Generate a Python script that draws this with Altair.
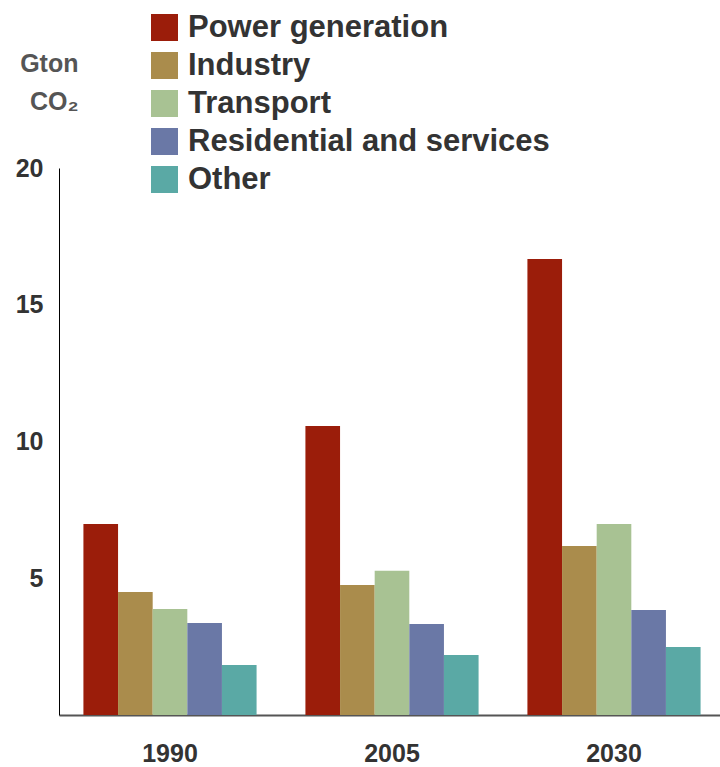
import altair as alt
import pandas as pd

years = ["1990", "2005", "2030"]
sectors = ["Power generation", "Industry", "Transport", "Residential and services", "Other"]
colors = ["#9B1D0A", "#AA8C4C", "#A8C293", "#6A78A6", "#5AA9A5"]

power = [6.98, 10.57, 16.67]
industry = [4.50, 4.75, 6.18]
transport = [3.88, 5.27, 6.98]
residential = [3.36, 3.33, 3.84]
other = [1.83, 2.19, 2.49]

series = [power, industry, transport, residential, other]
rows = []
for s, vals in zip(sectors, series):
    for y, v in zip(years, vals):
        rows.append({"year": y, "sector": s, "value": v})
df = pd.DataFrame(rows)

FONT = "Liberation Sans"

chart = alt.Chart(df).mark_bar().encode(
    x=alt.X("year:N", sort=years,
            scale=alt.Scale(paddingInner=0.22, paddingOuter=0.11, range=[0, 666]),
            axis=alt.Axis(title=None, labelAngle=0, labelFont=FONT, labelFontSize=25,
                          labelFontWeight="bold", labelColor="#333333", ticks=False,
                          labelPadding=26, domainColor="#555555", domainWidth=2)),
    xOffset=alt.XOffset("sector:N", sort=sectors, scale=alt.Scale(paddingInner=0, paddingOuter=0)),
    y=alt.Y("value:Q", scale=alt.Scale(domain=[0, 20], nice=False),
            axis=alt.Axis(values=[5, 10, 15, 20], grid=False, ticks=False,
                          labelFont=FONT, labelFontSize=25, labelFontWeight="bold",
                          labelColor="#333333", labelPadding=16,
                          domainColor="#000000", domainWidth=1,
                          title=["Gton", "CO\u2082"], titleAngle=0, titleAlign="right",
                          titleX=19, titleY=-97, titleFont=FONT, titleFontSize=25,
                          titleFontWeight="bold", titleColor="#555555", titleLineHeight=38,
                          titleBaseline="alphabetic")),
    color=alt.Color("sector:N", sort=sectors,
                    scale=alt.Scale(domain=sectors, range=colors),
                    legend=alt.Legend(title=None, orient="none", legendX=90, legendY=-156,
                                      symbolType="square", symbolSize=729,
                                      symbolStrokeWidth=0, symbolOpacity=1,
                                      labelFont=FONT, labelFontSize=31, labelFontWeight="bold",
                                      labelColor="#333333", labelOffset=8, rowPadding=6,
                                      labelLimit=600)),
).properties(
    width=661, height=547,
    padding={"left": 59, "top": 168, "right": 0, "bottom": 52},
    autosize=alt.AutoSizeParams(type="none"),
).configure_view(stroke=None)

chart.save("out.html", embed_options={"renderer": "svg", "actions": False})
